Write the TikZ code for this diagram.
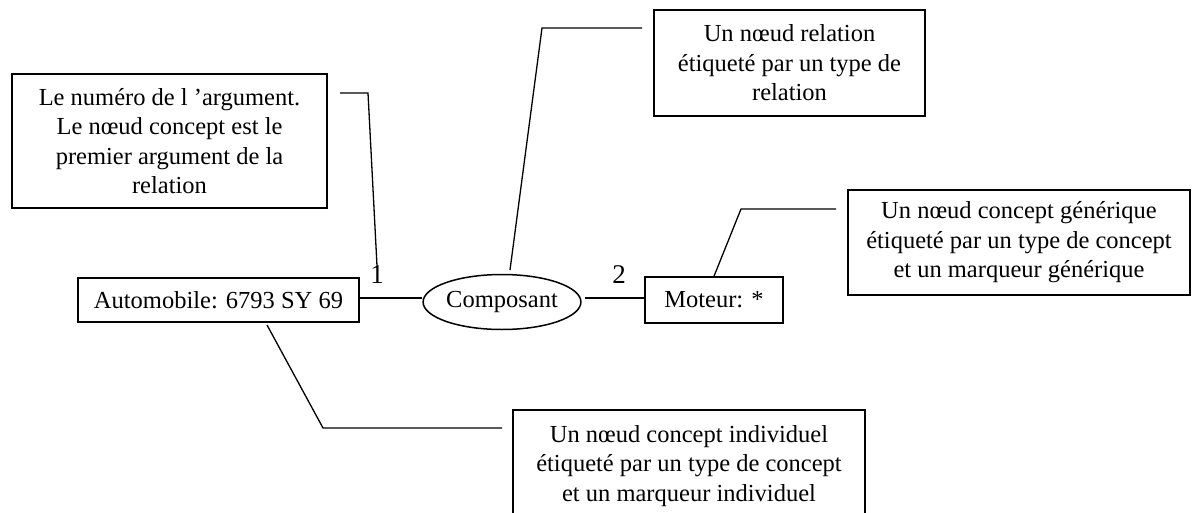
\documentclass[tikz,border=0pt]{standalone}
\usepackage{fontspec}
\setmainfont{Liberation Serif}
\usetikzlibrary{shapes.geometric}
\begin{document}
\begin{tikzpicture}[x=1pt,y=-1pt,
  every node/.style={font=\fontsize{24.5}{29.5}\selectfont},
  box/.style={draw,line width=1.6pt,rectangle,inner sep=0pt,align=center},
  conn/.style={line width=1.3pt}]
\useasboundingbox (0,0) rectangle (1198,513);
% boxes
\node[box,minimum width=315,minimum height=134] (argbox) at (169.5,141)
  {Le numéro de l ’argument.\\Le nœud concept est le\\premier argument de la\\relation};
\node[box,minimum width=271,minimum height=106] (relbox) at (789.5,63)
  {Un nœud relation\\étiqueté par un type de\\relation};
\node[box,minimum width=342,minimum height=105] (genbox) at (1019,242.5)
  {Un nœud concept générique\\étiqueté par un type de concept\\et un marqueur générique};
\node[box,minimum width=352,minimum height=112] (indbox) at (689,466)
  {Un nœud concept individuel\\étiqueté par un type de concept\\et un marqueur individuel};
% graph
\node[box,minimum width=281,minimum height=44] (auto) at (218.5,300) {Automobile: 6793 SY 69};
\node[draw,line width=1.5pt,ellipse,inner sep=0pt,minimum width=152,minimum height=55] (comp) at (502,302) {Composant};
\node[box,minimum width=138,minimum height=46] (mot) at (714,300) {Moteur: *};
\node[inner sep=0pt,font=\fontsize{27}{30}\selectfont] (one) at (377,275) {1};
\node[inner sep=0pt,font=\fontsize{27}{30}\selectfont] (two) at (619,275) {2};
% coordinates for free ends
\coordinate (a1) at (340,93);
\coordinate (r0) at (510,270);
\coordinate (r1) at (642,28);
\coordinate (g1) at (836,209);
\coordinate (i0) at (267,325);
\coordinate (i1) at (502,428);
\coordinate (c2) at (585,298);
% connectors
\draw[conn] (auto.east |- 0,298) -- (comp.west |- 0,298);
\draw[conn] (c2) -- (mot.west |- 0,298);
\draw[conn] (a1) -- (368,93) -- (one.north);
\draw[conn] (r0) -- (542,28) -- (r1);
\draw[conn] (mot.north) -- (741,209) -- (g1);
\draw[conn] (i0) -- (323,428) -- (i1);
\end{tikzpicture}
\end{document}
